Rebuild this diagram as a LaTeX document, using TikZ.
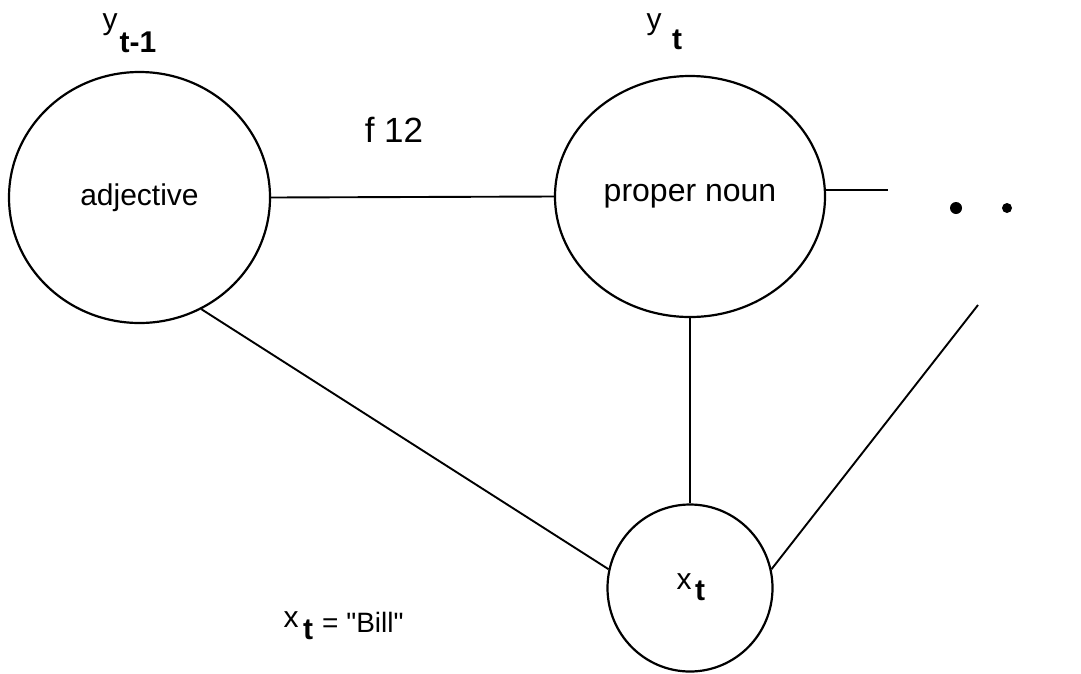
\documentclass[tikz,border=0pt]{standalone}
\usepackage{fontspec}
\setmainfont{Liberation Sans}
\newfontfamily\rawfont{Liberation Sans}
\usetikzlibrary{shapes.geometric}
\begin{document}
\begin{tikzpicture}[x=1pt,y=-1pt,
  stateoval/.style={draw, ellipse, line width=2.2pt, inner sep=0pt},
  conn/.style={line width=1.9pt},
  dotnode/.style={circle, fill=black, inner sep=0pt},
  lab/.style={inner sep=0pt, font=\fontsize{30}{32}\selectfont},
  mainlet/.style={inner sep=0pt, font=\fontsize{30}{32}\selectfont},
  sublet/.style={inner sep=0pt, font=\fontsize{30}{32}\selectfont\bfseries}]
\useasboundingbox (0,0) rectangle (1081,673);
\fill[white] (0,0) rectangle (1081,673);
% nodes
\node[stateoval, minimum width=261, minimum height=251, lab] (adj) at (139.5,197.5) {adjective};
\node[stateoval, minimum width=270, minimum height=241, lab, font=\fontsize{32}{34}\selectfont] (pn) at (690,196.5) {proper noun};
\node[stateoval, minimum width=165, minimum height=167] (xt) at (690,588) {};
% labels
\node[mainlet] (y1) at (110,25) {y};
\node[sublet] (y1s) at (138,42) {t-1};
\node[mainlet] (y2) at (654,25) {y};
\node[sublet] (y2s) at (677,40) {t};
\node[lab, font=\fontsize{35}{37}\selectfont] (f12) at (394,130) {f 12};
\node[mainlet] (xin) at (684,582) {x};
\node[sublet] (xins) at (700,591) {t};
\node[mainlet] (xb) at (291,620) {x};
\node[sublet] (xbs) at (308,630) {t};
\node[lab, font=\fontsize{28}{30}\rawfont, anchor=west] (bill) at (322,622) {= "Bill"};
% dots
\node[dotnode, minimum size=12] (d1) at (956,208) {};
\node[dotnode, minimum size=10] (d2) at (1007,208) {};
% free ends
\coordinate (r1) at (888,190);
\coordinate (r2) at (978,305);
% connectors
\draw[conn] (adj.east) -- (pn.west);
\draw[conn] (r1 -| pn.east) -- (r1);
\draw[conn] (pn.south) -- (xt.north);
\draw[conn] (adj.-61.5) -- (xt.167);
\draw[conn] (r2) -- (xt.13);
\end{tikzpicture}
\end{document}
